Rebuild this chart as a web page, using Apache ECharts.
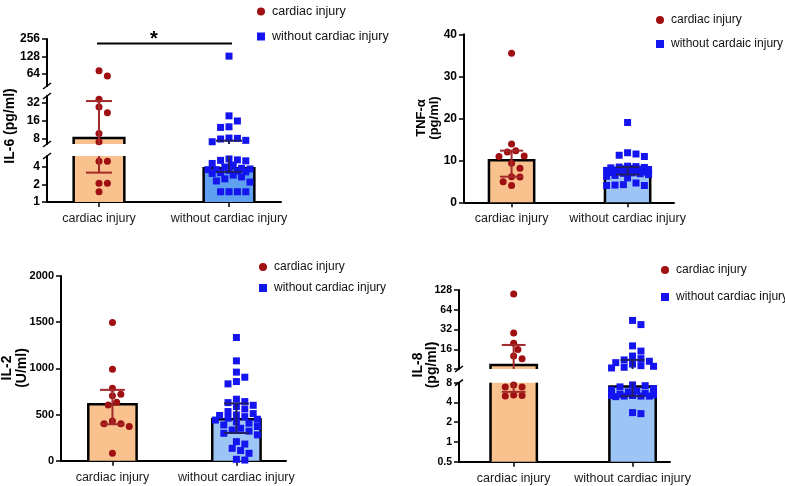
<!DOCTYPE html>
<html>
<head>
<meta charset="utf-8">
<script src="https://cdn.jsdelivr.net/npm/echarts@6/dist/echarts.min.js"></script>
<style>
  html, body { margin: 0; padding: 0; background: #fff; }
  #main { width: 785px; height: 486px; }
</style>
</head>
<body>
<div id="main"></div>
<script>
// values (bar = median, whiskers = IQR)
var groups = ['cardiac injury', 'without cardiac injury'];

var il6Cardiac = [73, 59, 37, 27.5, 22, 9.9, 7.2, 5.0, 5.0, 2.1, 2.1, 1.5];
var il6Without = [130, 19.5, 16, 12.8, 12.5, 8.3, 8.2, 8.0, 7.6, 7.2, 5.5, 5.3, 5.2, 5.1, 4.6, 4.3,
  4.0, 3.8, 3.7, 3.6, 3.6, 3.5, 3.4, 3.3, 3.2, 3.1, 2.9, 2.7, 2.5, 2.3, 2.2, 1.5, 1.5, 1.5, 1.5];
var il6Median = [8.3, 3.8];
var il6Low = [3.2, 3.3];
var il6High = [34.5, 7.5];

var tnfCardiac = [35.5, 13.9, 12.3, 12.0, 11.0, 10.9, 9.3, 8.1, 6.1, 6.0, 4.9, 4.0];
var tnfWithout = [19.0, 11.8, 11.5, 11.2, 10.9, 8.6, 8.5, 8.4, 8.3, 8.2, 8.1, 8.0, 7.9, 7.8, 7.7,
  7.6, 7.5, 7.4, 7.3, 7.2, 7.1, 7.0, 6.9, 6.8, 6.6, 6.4, 6.2, 5.8, 4.6, 4.2, 4.1, 4.0, 4.0];
var tnfMedian = [10.0, 7.45];
var tnfLow = [6.1, 6.6];
var tnfHigh = [12.3, 8.4];

var il2Cardiac = [1497, 991, 785, 720, 702, 633, 604, 430, 401, 401, 369, 80];
var il2Without = [1334, 1081, 959, 904, 857, 832, 666, 640, 629, 600, 586, 560, 532, 510, 496, 490,
  477, 460, 449, 440, 420, 406, 387, 370, 351, 333, 320, 297, 280, 206, 180, 134, 110, 80, 15, 7];
var il2Median = [612, 450];
var il2Low = [395, 300];
var il2High = [767, 620];

var il8Cardiac = [111, 28.4, 19.7, 15.8, 12.6, 11.5, 7.4, 6.9, 6.9, 5.2, 5.1, 5.0];
var il8Without = [44, 38, 18, 15, 12.6, 11.5, 11, 10.5, 10, 9.5, 9, 8.8, 8.5, 8.3, 7.4, 7.2, 6.9,
  6.5, 6.2, 6.0, 5.8, 5.5, 5.3, 5.2, 5.1, 5.1, 5.0, 5.0, 5.0, 4.9, 2.8, 2.7];
var il8Median = [9.2, 7.0];
var il8Low = [5.8, 5.0];
var il8High = [18.6, 11];

var RED = '#a00f12', BLUE = '#1414ee';
var ERR = ['#a32a2a', '#1e1e6a'];
var ORANGE = '#f8c18e';
var FONT = '"Liberation Sans", Arial, sans-serif';

var panels = [
  {
    title: 'IL-6 (pg/ml)', titleX: 10, titleY: 126, titleSize: 14, titleLine: 14,
    left: 47, right: 281, xMin: -0.4, xMax: 1.4, log: true, labelSize: 12,
    segs: [
      { top: 39, bottom: 86, min: 39.9, max: 256, ticks: [64, 128, 256] },
      { top: 96, bottom: 144, min: 6.6, max: 41.9, ticks: [8, 16, 32] },
      { top: 156, bottom: 202, min: 1, max: 6.18, ticks: [1, 2, 4] }
    ],
    cardiac: il6Cardiac, without: il6Without, median: il6Median, low: il6Low, high: il6High,
    withoutName: 'without cardiac injury', fills: [ORANGE, '#5e9ff0'],
    legend: { left: 252, top: 0, gap: 12, size: 12.5 }
  },
  {
    title: 'TNF-α\n(pg/ml)', titleX: 428, titleY: 118, titleSize: 13, titleLine: 13,
    left: 464, right: 674, xMin: -0.41, xMax: 1.4, log: false, labelSize: 12,
    segs: [{ top: 34.3, bottom: 202.3, min: 0, max: 40, interval: 10 }],
    cardiac: tnfCardiac, without: tnfWithout, median: tnfMedian, low: tnfLow, high: tnfHigh,
    withoutName: 'without cardaic injury', fills: [ORANGE, '#9cc5f5'],
    legend: { left: 651, top: 9, gap: 12, size: 12 }
  },
  {
    title: 'IL-2\n(U/ml)', titleX: 15, titleY: 368, titleSize: 14, titleLine: 15,
    left: 61, right: 286, xMin: -0.415, xMax: 1.4, log: false, labelSize: 11,
    segs: [{ top: 276, bottom: 460.7, min: 0, max: 2000, interval: 500 }],
    cardiac: il2Cardiac, without: il2Without, median: il2Median, low: il2Low, high: il2High,
    withoutName: 'without cardiac injury', fills: [ORANGE, '#9cc5f5'],
    legend: { left: 254, top: 256, gap: 9, size: 12 }
  },
  {
    title: 'IL-8\n(pg/ml)', titleX: 425, titleY: 365, titleSize: 14, titleLine: 14,
    left: 459, right: 670, xMin: -0.46, xMax: 1.315, log: true, labelSize: 10.5,
    segs: [
      { top: 290, bottom: 369, min: 8, max: 128, ticks: [8, 16, 32, 64, 128] },
      { top: 382.7, bottom: 461.7, min: 0.5, max: 8, ticks: [0.5, 1, 2, 4, 8] }
    ],
    cardiac: il8Cardiac, without: il8Without, median: il8Median, low: il8Low, high: il8High,
    withoutName: 'without cardiac injury', fills: [ORANGE, '#9cc5f5'],
    legend: { left: 656, top: 259, gap: 15, size: 12 }
  }
];

var BAR_HALF = 0.195, CAP_HALF = 0.1, DOT = 7, SPREAD = 22;

// simple beeswarm: dots side by side, allowed to overlap once the row is full
function swarm(values, toPx, spacing) {
  var placed = [];
  var offs = new Array(values.length);
  var order = values.map(function (v, i) { return i; })
    .sort(function (a, b) { return values[b] - values[a]; });
  order.forEach(function (i) {
    var y = toPx(values[i]);
    var best = 0, bestDist = -1;
    for (var k = 0; ; k++) {
      var dx = (k % 2 ? 1 : -1) * Math.ceil(k / 2) * DOT * 0.6;
      if (Math.abs(dx) > SPREAD) break;
      var d = placed.reduce(function (m, p) {
        return Math.min(m, Math.hypot(p[0] - dx, p[1] - y));
      }, Infinity);
      if (d >= DOT * 1.05) { best = dx; break; }
      if (d > bestDist) { bestDist = d; best = dx; }
    }
    placed.push([best, y]);
    offs[i] = best / spacing;
  });
  return offs;
}

function makeBarRender(fills) {
  return function (params, api) {
    var cs = params.coordSys;
    var x = api.value(0), v = api.value(1);
    var l = api.coord([x - BAR_HALF, v])[0], r = api.coord([x + BAR_HALF, v])[0];
    var yv = api.coord([x, v])[1];
    var bottom = cs.y + cs.height;
    if (!(yv < bottom)) return null;
    var topIn = yv >= cs.y;
    var top = topIn ? yv : cs.y;
    var stroke = { stroke: '#000', lineWidth: 2.5, fill: null, lineJoin: 'miter' };
    var kids = [{ type: 'rect', shape: { x: l, y: top, width: r - l, height: bottom - top },
      style: { fill: fills[api.value(2)] } }];
    if (topIn) {
      kids.push({ type: 'polyline', shape: { points: [[l, bottom], [l, top], [r, top], [r, bottom]] }, style: stroke });
    } else {
      kids.push({ type: 'line', shape: { x1: l, y1: top, x2: l, y2: bottom }, style: stroke });
      kids.push({ type: 'line', shape: { x1: r, y1: top, x2: r, y2: bottom }, style: stroke });
    }
    return { type: 'group', children: kids };
  };
}

function renderErr(params, api) {
  var cs = params.coordSys;
  var x = api.value(0);
  var pLow = api.coord([x, api.value(1)]);
  var pHigh = api.coord([x, api.value(2)]);
  var cx = pLow[0];
  var half = api.coord([x + CAP_HALF, api.value(1)])[0] - cx;
  var top = cs.y, bottom = cs.y + cs.height;
  var a = Math.max(Math.min(pLow[1], pHigh[1]), top);
  var b = Math.min(Math.max(pLow[1], pHigh[1]), bottom);
  var style = { stroke: ERR[api.value(3)], lineWidth: 2 };
  var kids = [];
  if (a < b) kids.push({ type: 'line', shape: { x1: cx, y1: a, x2: cx, y2: b }, style: style });
  [pLow[1], pHigh[1]].forEach(function (y) {
    if (y >= top && y <= bottom) {
      kids.push({ type: 'line', shape: { x1: cx - half, y1: y, x2: cx + half, y2: y }, style: style });
    }
  });
  return { type: 'group', children: kids };
}

var option = {
  animation: false,
  textStyle: { fontFamily: FONT },
  grid: [], xAxis: [], yAxis: [], series: [], legend: [], graphic: []
};

panels.forEach(function (p) {
  var spacing = (p.right - p.left) / (p.xMax - p.xMin);
  var last = p.segs[p.segs.length - 1];
  var toPx = p.log
    ? function (v) { return -Math.log2(v) * (last.bottom - last.top) / (Math.log2(last.max) - Math.log2(last.min)); }
    : function (v) { return -v * (last.bottom - last.top) / (last.max - last.min); };
  var offC = swarm(p.cardiac, toPx, spacing);
  var offW = swarm(p.without, toPx, spacing);

  p.segs.forEach(function (s, k) {
    var gi = option.grid.length;
    var isBottom = k === p.segs.length - 1;
    option.grid.push({ left: p.left, top: s.top, width: p.right - p.left, height: s.bottom - s.top,
      outerBoundsMode: 'none' });

    option.xAxis.push({
      gridIndex: gi, type: 'value', min: p.xMin, max: p.xMax, show: isBottom,
      axisLine: { show: true, onZero: false, lineStyle: { color: '#000', width: 2 } },
      axisTick: { show: true, customValues: [0, 1], length: 5, lineStyle: { color: '#000', width: 1.5 } },
      axisLabel: { customValues: [0, 1], margin: 10, fontSize: 12.5, color: '#1a1a1a',
        formatter: function (v) { return groups[Math.round(v)]; } },
      splitLine: { show: false }
    });

    var yAxis = {
      gridIndex: gi, min: s.min, max: s.max,
      axisLine: { show: true, onZero: false, lineStyle: { color: '#000', width: 2 } },
      axisTick: { show: true, length: 5, lineStyle: { color: '#000', width: 1.5 } },
      axisLabel: { fontWeight: 'bold', fontSize: p.labelSize, color: '#000', margin: 7,
        formatter: function (v) { return String(Math.round(v * 100) / 100); } },
      splitLine: { show: false }
    };
    if (p.log) {
      yAxis.type = 'log';
      yAxis.logBase = 2;
      yAxis.axisTick.customValues = s.ticks;
      yAxis.axisLabel.customValues = s.ticks;
    } else {
      yAxis.type = 'value';
      yAxis.interval = s.interval;
    }
    option.yAxis.push(yAxis);

    option.series.push({
      type: 'custom', name: 'bars', xAxisIndex: gi, yAxisIndex: gi, z: 1,
      renderItem: makeBarRender(p.fills),
      data: [[0, p.median[0], 0], [1, p.median[1], 1]]
    });
    option.series.push({
      type: 'custom', name: 'iqr', xAxisIndex: gi, yAxisIndex: gi, z: 4,
      renderItem: renderErr,
      data: [[0, p.low[0], p.high[0], 0], [1, p.low[1], p.high[1], 1]]
    });
    option.series.push({
      type: 'scatter', name: groups[0], xAxisIndex: gi, yAxisIndex: gi, z: 3,
      symbol: 'circle', symbolSize: DOT, itemStyle: { color: RED, opacity: 1 }, clip: true,
      data: p.cardiac.map(function (v, i) { return [offC[i], v]; })
    });
    option.series.push({
      type: 'scatter', name: p.withoutName, xAxisIndex: gi, yAxisIndex: gi, z: 3,
      symbol: 'rect', symbolSize: DOT, itemStyle: { color: BLUE, opacity: 1 }, clip: true,
      data: p.without.map(function (v, i) { return [1 + offW[i], v]; })
    });

    // break marks on the y axis
    if (p.segs.length > 1) {
      var ends = [];
      if (k > 0) ends.push(s.top);
      if (!isBottom) ends.push(s.bottom);
      ends.forEach(function (y) {
        option.graphic.push({ type: 'line', z: 10,
          shape: { x1: p.left - 4, y1: y + 3, x2: p.left + 4, y2: y - 3 },
          style: { stroke: '#000', lineWidth: 1.5 } });
      });
    }
  });

  option.legend.push({
    orient: 'vertical', left: p.legend.left, top: p.legend.top, itemGap: p.legend.gap,
    itemWidth: 8, itemHeight: 8, selectedMode: false,
    data: [{ name: groups[0], icon: 'circle' }, { name: p.withoutName, icon: 'rect' }],
    textStyle: { fontSize: p.legend.size, color: '#111', padding: [0, 0, 0, 2] }
  });

  option.graphic.push({
    type: 'text', x: p.titleX, y: p.titleY, rotation: Math.PI / 2,
    style: { text: p.title, font: 'bold ' + p.titleSize + 'px ' + FONT, fill: '#000',
      align: 'center', verticalAlign: 'middle', lineHeight: p.titleLine }
  });
});

// significance bar on the IL-6 panel
option.graphic.push({ type: 'line', shape: { x1: 97, y1: 43.5, x2: 232, y2: 43.5 },
  style: { stroke: '#000', lineWidth: 2 } });
option.graphic.push({ type: 'text', x: 154, y: 29,
  style: { text: '*', font: 'bold 20px ' + FONT, fill: '#000', align: 'center', verticalAlign: 'top' } });

var chart = echarts.init(document.getElementById('main'));
chart.setOption(option);
</script>
</body>
</html>
